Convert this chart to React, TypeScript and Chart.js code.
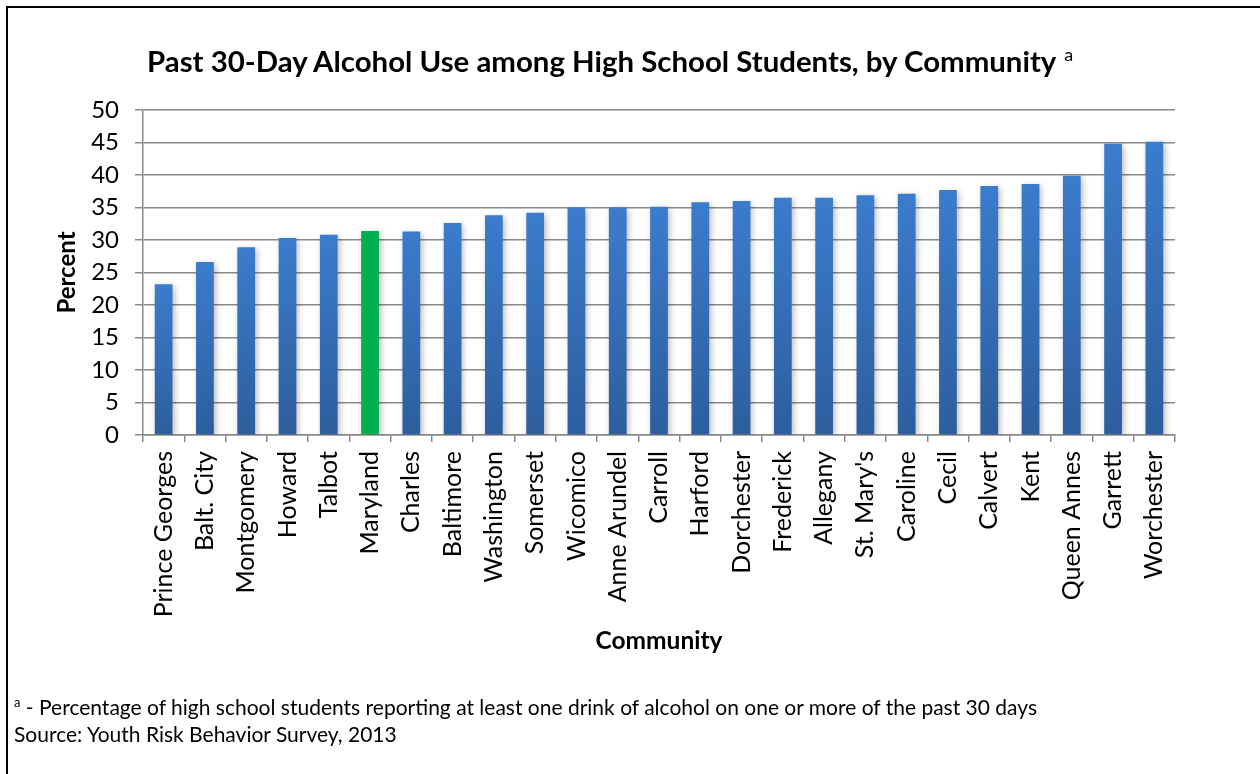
import React, { useEffect, useRef } from "react";
import { Chart, registerables } from "chart.js";

Chart.register(...registerables);

const categories = [
  "Prince Georges", "Balt. City", "Montgomery", "Howard", "Talbot", "Maryland",
  "Charles", "Baltimore", "Washington", "Somerset", "Wicomico", "Anne Arundel",
  "Carroll", "Harford", "Dorchester", "Frederick", "Allegany", "St. Mary's",
  "Caroline", "Cecil", "Calvert", "Kent", "Queen Annes", "Garrett", "Worchester",
];
const percentValues = [
  23.2, 26.6, 28.9, 30.3, 30.8, 31.4, 31.3, 32.6, 33.8, 34.2, 35.0, 35.0,
  35.1, 35.8, 36.0, 36.5, 36.5, 36.9, 37.1, 37.7, 38.3, 38.6, 39.9, 44.8, 45.1,
];
const highlightCategory = "Maryland";
const yTicks = [0, 5, 10, 15, 20, 25, 30, 35, 40, 45, 50];

const titleText = "Past 30-Day Alcohol Use among High School Students, by Community";
const footnoteText =
  " - Percentage of high school students reporting at least one drink of alcohol on one or more of the past 30 days";
const sourceText = "Source: Youth Risk Behavior Survey, 2013";

const FONT = "Lato, 'Open Sans', sans-serif";
const GRID = "#8a8a8a";

const shadowPlugin = {
  id: "barShadow",
  beforeDatasetsDraw(chart: any) {
    const ctx = chart.ctx;
    ctx.save();
    ctx.shadowColor = "rgba(0,0,0,0.28)";
    ctx.shadowBlur = 6;
    ctx.shadowOffsetX = 2;
    ctx.shadowOffsetY = 2;
  },
  afterDatasetsDraw(chart: any) {
    chart.ctx.restore();
  },
};

export default function App() {
  const canvasRef = useRef<HTMLCanvasElement | null>(null);

  useEffect(() => {
    const canvas = canvasRef.current;
    if (!canvas) return;
    const chart = new Chart(canvas, {
      type: "bar",
      data: {
        labels: categories,
        datasets: [
          {
            data: percentValues,
            barPercentage: 0.43,
            categoryPercentage: 1,
            borderWidth: 0,
            backgroundColor: (ctx: any) => {
              const c = ctx.chart;
              const area = c.chartArea;
              if (!area) return "#3a7bcd";
              const green = categories[ctx.dataIndex] === highlightCategory;
              const v = ctx.raw as number;
              const yTop = c.scales.y.getPixelForValue(v);
              const yBot = c.scales.y.getPixelForValue(0);
              const g = c.ctx.createLinearGradient(0, yTop, 0, yBot);
              if (green) {
                g.addColorStop(0, "#00b050");
                g.addColorStop(1, "#00b050");
              } else {
                g.addColorStop(0, "#3b7ccd");
                g.addColorStop(1, "#2d5e9d");
              }
              return g;
            },
          },
        ],
      },
      options: {
        animation: false,
        responsive: false,
        maintainAspectRatio: false,
        layout: { padding: { top: 110, right: 85, left: 0, bottom: 0 } },
        plugins: {
          legend: { display: false },
          title: { display: false },
          tooltip: { enabled: false },
        },
        scales: {
          x: {
            afterFit: (s: any) => {
              s.height = 339;
            },
            grid: {
              display: true,
              drawOnChartArea: false,
              drawTicks: true,
              tickLength: 7,
              color: GRID,
              lineWidth: 1.5,
              offset: true,
            },
            border: { display: true, color: GRID, width: 1.5 },
            ticks: {
              autoSkip: false,
              maxRotation: 90,
              minRotation: 90,
              padding: 9,
              color: "#000",
              font: { family: FONT, size: 25 },
            },
            title: {
              display: true,
              text: "Community",
              color: "#000",
              font: { family: FONT, size: 24.5, weight: "bold" },
              padding: { top: 0, bottom: 118 },
            },
          },
          y: {
            min: 0,
            max: 50,
            afterFit: (s: any) => {
              s.width = 143;
            },
            afterBuildTicks: (s: any) => {
              s.ticks = yTicks.map((v) => ({ value: v }));
            },
            grid: {
              color: GRID,
              lineWidth: 1.5,
              tickLength: 8,
              drawTicks: true,
            },
            border: { display: true, color: GRID, width: 1.5 },
            ticks: {
              padding: 16,
              color: "#000",
              font: { family: FONT, size: 24 },
            },
            title: {
              display: true,
              text: "Percent",
              color: "#000",
              font: { family: FONT, size: 24, weight: "bold" },
              padding: { top: 53, bottom: 0 },
            },
          },
        },
      },
      plugins: [shadowPlugin],
    } as any);
    return () => chart.destroy();
  }, []);

  return (
    <div
      style={{
        position: "fixed",
        left: 0,
        top: 0,
        width: 1260,
        height: 774,
        overflow: "hidden",
        background: "#fff",
        fontFamily: FONT,
      }}
    >
      <div
        style={{
          position: "absolute",
          left: 6,
          top: 6,
          width: 1270,
          height: 790,
          borderLeft: "2px solid #000",
          borderTop: "2px solid #000",
        }}
      />
      <canvas
        ref={canvasRef}
        width={1260}
        height={774}
        style={{ position: "absolute", left: 0, top: 0, width: 1260, height: 774 }}
      />
      <div
        style={{
          position: "absolute",
          left: 147,
          top: 36,
          fontSize: 29.4,
          lineHeight: "36px",
          fontWeight: "bold",
          color: "#000",
          whiteSpace: "nowrap",
        }}
      >
        {titleText}
        <span style={{ fontWeight: "normal", fontSize: 18, verticalAlign: "super", marginLeft: 8 }}>a</span>
      </div>
      <div
        style={{
          position: "absolute",
          left: 14,
          top: 689,
          fontSize: 21,
          lineHeight: "27px",
          color: "#000",
          whiteSpace: "nowrap",
        }}
      >
        <div>
          <sup style={{ fontSize: 13 }}>a</sup>
          {footnoteText}
        </div>
        <div>{sourceText}</div>
      </div>
    </div>
  );
}
